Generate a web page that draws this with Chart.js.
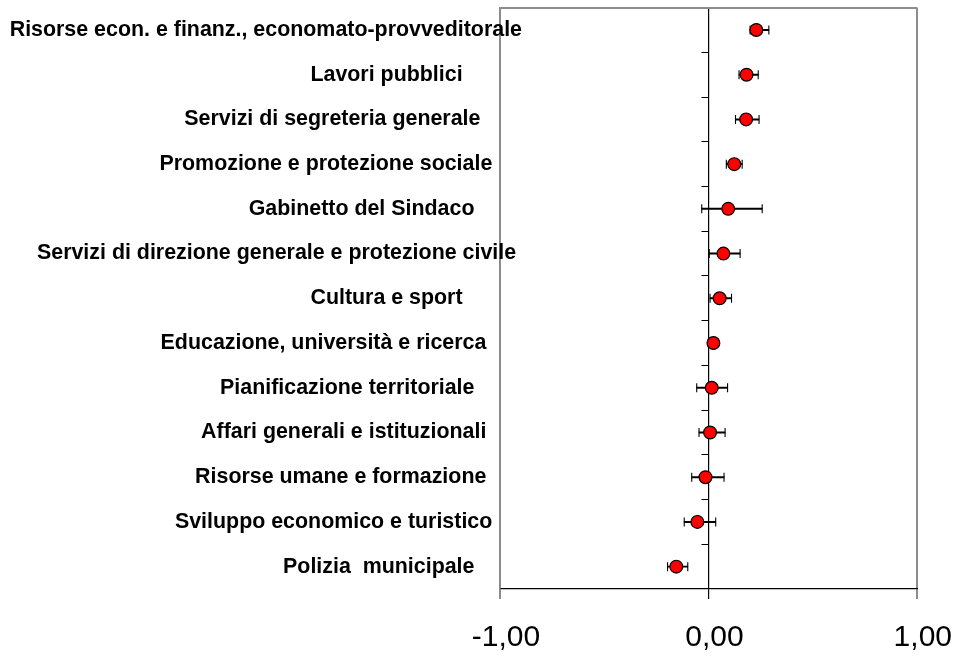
<!DOCTYPE html>
<html>
<head>
<meta charset="utf-8">
<script src="https://cdn.jsdelivr.net/npm/chart.js@4"></script>
<style>
  html, body { margin: 0; padding: 0; background: #fff; }
  canvas { display: block; }
</style>
</head>
<body>
<canvas id="chart" width="967" height="657"></canvas>
<script>
// Settori, dall'alto verso il basso (gli spazi finali sono quelli delle etichette originali)
const categories = [
    'Risorse econ. e finanz., economato-provveditorale',
    'Lavori pubblici          ',
    'Servizi di segreteria generale       ',
    'Promozione e protezione sociale     ',
    'Gabinetto del Sindaco        ',
    'Servizi di direzione generale e protezione civile ',
    'Cultura e sport          ',
    'Educazione, università e ricerca      ',
    'Pianificazione territoriale        ',
    'Affari generali e istituzionali      ',
    'Risorse umane e formazione      ',
    'Sviluppo economico e turistico     ',
    'Polizia  municipale        '
];

// stima puntuale e intervallo
const means = [0.230, 0.183, 0.181, 0.124, 0.095, 0.072, 0.054, 0.024, 0.016, 0.008, -0.014, -0.053, -0.154];
const lower = [0.200, 0.147, 0.130, 0.086, -0.032, 0.004, 0.008, 0.000, -0.056, -0.045, -0.080, -0.116, -0.196];
const upper = [0.290, 0.239, 0.243, 0.162, 0.258, 0.152, 0.111, 0.045, 0.092, 0.080, 0.075, 0.035, -0.099];

const xTicks = [-1, 0, 1];

const FONT = 'Arial, "Liberation Sans", Helvetica, sans-serif';
Chart.defaults.font.family = FONT;
Chart.defaults.color = '#000';

const borderGrey = '#8c8c8c';
const labelSize = 21.4;

// larghezza dell'etichetta più lunga, serve per allinearle a destra in modalità mirror
function widestLabel() {
    const c = document.createElement('canvas').getContext('2d');
    c.font = 'normal bold ' + labelSize + 'px ' + FONT;
    return Math.max(...categories.map(t => c.measureText(t).width));
}
const labelOverhang = 22;

// tacche delle categorie sulla linea dello zero
const zeroLineTicks = {
    id: 'zeroLineTicks',
    beforeDatasetsDraw(chart) {
        const { ctx, scales: { x, y } } = chart;
        const x0 = Math.floor(x.getPixelForValue(0)) + 0.5;
        ctx.save();
        ctx.strokeStyle = '#000';
        ctx.lineWidth = 1;
        ctx.beginPath();
        for (let i = 1; i < categories.length; i++) {
            const yy = Math.floor((y.getPixelForValue(i - 1) + y.getPixelForValue(i)) / 2) + 0.5;
            ctx.moveTo(x0 - 7, yy);
            ctx.lineTo(x0, yy);
        }
        ctx.stroke();
        ctx.restore();
    }
};

const capStyle = {
    type: 'line',
    showLine: false,
    pointStyle: 'line',
    pointRotation: 90,
    pointRadius: 4.5,
    pointBorderColor: '#000',
    pointBorderWidth: 1.1,
    order: 1
};

new Chart(document.getElementById('chart'), {
    type: 'bar',
    data: {
        labels: categories,
        datasets: [
            {
                type: 'line',
                data: means,
                showLine: false,
                pointStyle: 'circle',
                pointRadius: 6.4,
                pointBackgroundColor: '#ff0000',
                pointBorderColor: '#000',
                pointBorderWidth: 1.2,
                order: 0
            },
            Object.assign({ data: lower }, capStyle),
            Object.assign({ data: upper }, capStyle),
            {
                type: 'bar',
                data: categories.map((_, i) => [lower[i], upper[i]]),
                backgroundColor: '#000',
                borderWidth: 0,
                barThickness: 1.3,
                order: 2
            }
        ]
    },
    options: {
        indexAxis: 'y',
        responsive: false,
        animation: false,
        events: [],
        layout: { padding: { top: 7, right: 48, left: 0, bottom: 0 } },
        plugins: {
            legend: { display: false },
            tooltip: { enabled: false }
        },
        scales: {
            x: {
                type: 'linear',
                min: -1,
                max: 1,
                afterBuildTicks: (scale) => {
                    scale.ticks = xTicks.map(v => ({ value: v }));
                },
                ticks: {
                    callback: (v) => Number(v).toFixed(2).replace('.', ','),
                    font: { size: 30 },
                    color: '#000',
                    padding: 21,
                    labelOffset: 6,
                    maxRotation: 0
                },
                grid: {
                    color: (ctx) => (ctx.tick && ctx.tick.value === 0) ? '#000' : borderGrey,
                    lineWidth: (ctx) => (ctx.tick && ctx.tick.value === 0) ? 1.2 : 2,
                    drawTicks: true,
                    tickLength: 10
                },
                border: { color: '#000', width: 1.2 },
                afterFit: (scale) => { scale.height = 68; }
            },
            y: {
                type: 'category',
                offset: true,
                grid: {
                    offset: true,
                    drawTicks: false,
                    color: (ctx) => ctx.index === 0 ? borderGrey : 'rgba(0,0,0,0)',
                    lineWidth: 2
                },
                border: { color: borderGrey, width: 1.5 },
                ticks: {
                    autoSkip: false,
                    font: { size: labelSize, weight: 'bold' },
                    color: '#000',
                    mirror: true,
                    crossAlign: 'far',
                    padding: labelOverhang - widestLabel()
                },
                afterFit: (scale) => { scale.width = 500; }
            }
        }
    },
    plugins: [zeroLineTicks]
});
</script>
</body>
</html>
